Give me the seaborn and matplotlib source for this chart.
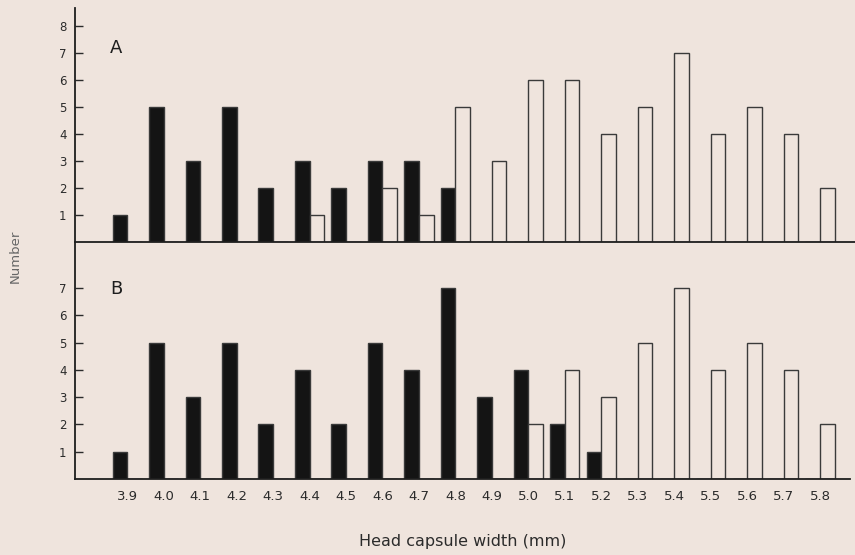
import numpy as np
import pandas as pd
import matplotlib
matplotlib.use("Agg")
import matplotlib.pyplot as plt
import seaborn as sns

# head capsule width classes (mm)
widths = ["3.9", "4.0", "4.1", "4.2", "4.3", "4.4", "4.5", "4.6", "4.7", "4.8",
          "4.9", "5.0", "5.1", "5.2", "5.3", "5.4", "5.5", "5.6", "5.7", "5.8"]

# panel A
a_filled = [1, 5, 3, 5, 2, 3, 2, 3, 3, 2, 0, 0, 0, 0, 0, 0, 0, 0, 0, 0]
a_open = [0, 0, 0, 0, 0, 1, 0, 2, 1, 5, 3, 6, 6, 4, 5, 7, 4, 5, 4, 2]

# panel B
b_filled = [1, 5, 3, 5, 2, 4, 2, 5, 4, 7, 3, 4, 2, 1, 0, 0, 0, 0, 0, 0]
b_open = [0, 0, 0, 0, 0, 0, 0, 0, 0, 0, 0, 2, 4, 3, 5, 7, 4, 5, 4, 2]

bg = "#efe4dd"
ink = "#2b2b2b"

sns.set_style("ticks")
plt.rcParams["font.family"] = ["DejaVu Sans"]


def long_table(filled, open_):
    return pd.DataFrame({
        "width": widths * 2,
        "count": filled + open_,
        "kind": ["filled"] * len(widths) + ["open"] * len(widths),
    })


fig = plt.figure(figsize=(8.55, 5.55), dpi=100, facecolor=bg)
axA = fig.add_axes([75 / 855, (555 - 242) / 555, 780 / 855, 234 / 555])
axB = fig.add_axes([75 / 855, (555 - 479) / 555, 775 / 855, 236 / 555])

step = 36.47
for ax, filled, open_, yticks, label, ppu, lab_y in [
    (axA, a_filled, a_open, range(1, 9), "A", 27.0, 40),
    (axB, b_filled, b_open, range(1, 8), "B", 27.3, 46),
]:
    ax.set_facecolor(bg)
    sns.barplot(data=long_table(filled, open_), x="width", y="count", hue="kind",
                order=widths, hue_order=["filled", "open"],
                palette={"filled": "#141414", "open": bg}, saturation=1,
                edgecolor="#3a3a3a", linewidth=1, width=0.8, errorbar=None,
                legend=False, ax=ax)
    w_px = ax.get_position().width * 855
    h_px = ax.get_position().height * 555
    ax.set_xlim(-1.43, -1.43 + w_px / step)
    ax.set_ylim(0, h_px / ppu)
    ax.set_yticks(list(yticks))
    ax.tick_params(axis="y", direction="in", length=6, width=1, colors=ink,
                   labelsize=8.5, pad=6)
    ax.tick_params(axis="x", length=0, pad=8, labelsize=9.5, colors=ink)
    for s in ["top", "right"]:
        ax.spines[s].set_visible(False)
    for s in ["left", "bottom"]:
        ax.spines[s].set_linewidth(1.3)
        ax.spines[s].set_color("#1e1e1e")
    ax.set_xlabel("")
    ax.set_ylabel("")
    ax.text(35 / w_px, (h_px - lab_y) / h_px, label, transform=ax.transAxes,
            fontsize=13, color="#1e1e1e", ha="left", va="center")

axA.set_xticklabels([])
axB.set_xlabel("Head capsule width (mm)", fontsize=11.5, color=ink, labelpad=22)
fig.text(15 / 855, 1 - 256 / 555, "Number", rotation=90, fontsize=9.5,
         color="#666666", ha="center", va="center")

fig.savefig("out.png", dpi=100, facecolor=bg)
